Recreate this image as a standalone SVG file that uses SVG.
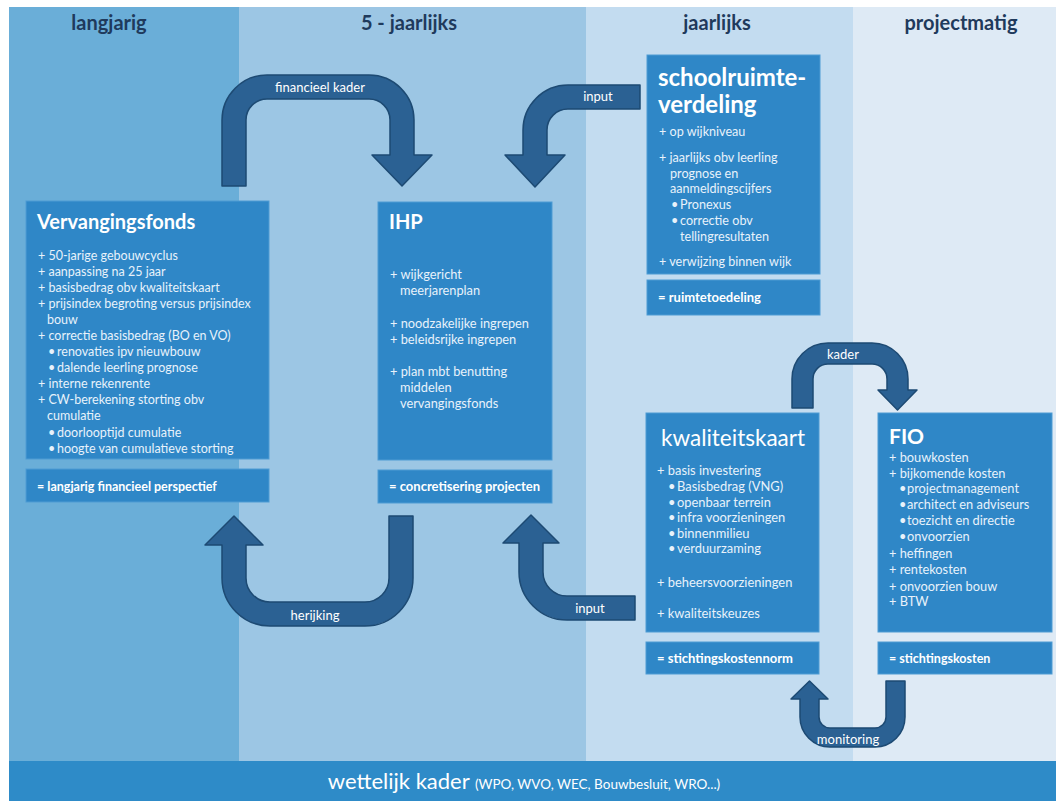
<svg xmlns="http://www.w3.org/2000/svg" width="1056" height="801" viewBox="0 0 1056 801">
<style>
.hdr{font-family:Lato,"Open Sans","Liberation Sans",sans-serif;font-weight:bold;font-size:20px;fill:#1f3a5c;text-anchor:middle}
.box{fill:#2f87c7;stroke:#4e9bd3;stroke-width:1}
.title{font-family:Lato,"Open Sans","Liberation Sans",sans-serif;font-weight:bold;fill:#ffffff}
.it{font-family:Lato,"Open Sans","Liberation Sans",sans-serif;fill:#e8f2fb}
.ft{font-family:Lato,"Open Sans","Liberation Sans",sans-serif;font-weight:bold;fill:#ffffff}
.arrow{fill:#2b6193;stroke:#1d4a73;stroke-width:1.5;stroke-linejoin:round}
.al{font-family:Lato,"Open Sans","Liberation Sans",sans-serif;fill:#ffffff;font-size:13px;text-anchor:middle}
</style>
<g id="background">
<rect x="9" y="7" width="230" height="754" fill="#6aaed8"/>
<rect x="239" y="7" width="347" height="754" fill="#9cc6e4"/>
<rect x="586" y="7" width="267" height="754" fill="#c3dcf0"/>
<rect x="853" y="7" width="203" height="754" fill="#deeaf5"/>
<text class="hdr" x="109" y="30">langjarig</text>
<text class="hdr" x="409" y="30">5 - jaarlijks</text>
<text class="hdr" x="717" y="30">jaarlijks</text>
<text class="hdr" x="961" y="30">projectmatig</text>
</g>
<g id="wettelijk-kader">
<rect x="9" y="761" width="1047" height="40" fill="#2e8bc8"/>
<text x="524" y="789" text-anchor="middle" font-family="Lato,'Open Sans','Liberation Sans',sans-serif" fill="#ffffff"><tspan font-size="22px">wettelijk kader </tspan><tspan font-size="13.5px">(WPO, WVO, WEC, Bouwbesluit, WRO...)</tspan></text>
</g>
<g id="connectors">
<g id="arrow-financieel-kader">
<path class="arrow" d="M222,186 L222,120 A45,45 0 0 1 267,75 L369,75 A45,45 0 0 1 414,120 L414,155 L432,155 L402,186 L372,155 L390,155 L390,120 A21,21 0 0 0 369,99 L267,99 A21,21 0 0 0 246,120 L246,186 Z"/>
<text class="al" x="320" y="92">financieel kader</text>
</g>
<g id="arrow-input-top">
<path class="arrow" d="M640,85 L568,85 A45,45 0 0 0 523,130 L523,155 L505,155 L535,187 L565,155 L547,155 L547,130 A21,21 0 0 1 568,109 L640,109 Z"/>
<text class="al" x="598" y="101">input</text>
</g>
<g id="arrow-herijking">
<path class="arrow" d="M389,516 L413,516 L413,578 A48,48 0 0 1 365,626 L270,626 A48,48 0 0 1 222,578 L222,545 L205,545 L234,516 L263,545 L246,545 L246,578 A24,24 0 0 0 270,602 L365,602 A24,24 0 0 0 389,578 Z"/>
<text class="al" x="315" y="620">herijking</text>
</g>
<g id="arrow-input-bottom">
<path class="arrow" d="M635,596 L567,596 A24,24 0 0 1 543,572 L543,543 L559,543 L531,515 L503,543 L519,543 L519,572 A48,48 0 0 0 567,620 L635,620 Z"/>
<text class="al" x="590" y="613">input</text>
</g>
<g id="arrow-kader">
<path class="arrow" d="M792,408 L792,379 A36,36 0 0 1 828,343 L872,343 A36,36 0 0 1 908,379 L908,390 L917,390 L897.5,410 L878,390 L887,390 L887,379 A15,15 0 0 0 872,364 L828,364 A15,15 0 0 0 813,379 L813,408 Z"/>
<text class="al" x="843" y="359">kader</text>
</g>
<g id="arrow-monitoring">
<path class="arrow" d="M886,681 L905,681 L905,717 A30,30 0 0 1 875,747 L830,747 A30,30 0 0 1 800,717 L800,699 L791,699 L809.5,681 L828,699 L819,699 L819,717 A11,11 0 0 0 830,728 L875,728 A11,11 0 0 0 886,717 Z"/>
<text class="al" x="848" y="744" font-size="14px">monitoring</text>
</g>
</g>
<g id="vervangingsfonds">
<rect class="box" x="26" y="201" width="243" height="258"/>
<text class="title" x="37" y="229" font-size="20px">Vervangingsfonds</text>
<g class="it" font-size="12.5px">
<text x="38" y="260">+ 50-jarige gebouwcyclus</text>
<text x="38" y="276">+ aanpassing na 25 jaar</text>
<text x="38" y="292">+ basisbedrag obv kwaliteitskaart</text>
<text x="38" y="308">+ prijsindex begroting versus prijsindex</text>
<text x="47" y="324">bouw</text>
<text x="38" y="340">+ correctie basisbedrag  (BO en VO)</text>
<text x="48" y="356">•<tspan x="57">renovaties ipv nieuwbouw</tspan></text>
<text x="48" y="372">•<tspan x="57">dalende leerling prognose</tspan></text>
<text x="38" y="388">+ interne rekenrente</text>
<text x="38" y="404">+ CW-berekening storting obv</text>
<text x="47" y="420">cumulatie</text>
<text x="48" y="437">•<tspan x="57">doorlooptijd cumulatie</tspan></text>
<text x="48" y="453">•<tspan x="57">hoogte van cumulatieve storting</tspan></text>
</g>
<rect class="box" x="26" y="469" width="243" height="33"/>
<text class="ft" x="37" y="491" font-size="12.5px">= langjarig financieel perspectief</text>
</g>
<g id="ihp">
<rect class="box" x="378" y="202" width="174" height="258"/>
<text class="title" x="389" y="229" font-size="20px">IHP</text>
<g class="it" font-size="12.8px">
<text x="390" y="279">+ wijkgericht</text>
<text x="400" y="295">meerjarenplan</text>
<text x="390" y="328">+ noodzakelijke ingrepen</text>
<text x="390" y="344">+ beleidsrijke ingrepen</text>
<text x="390" y="376">+ plan mbt benutting</text>
<text x="400" y="392">middelen</text>
<text x="400" y="408">vervangingsfonds</text>
</g>
<rect class="box" x="378" y="470" width="174" height="33"/>
<text class="ft" x="389" y="491" font-size="13px">= concretisering projecten</text>
</g>
<g id="schoolruimteverdeling">
<rect class="box" x="647" y="55" width="173" height="219"/>
<text class="title" x="658" y="86" font-size="24px">schoolruimte-</text>
<text class="title" x="658" y="113" font-size="24px">verdeling</text>
<g class="it" font-size="12.6px">
<text x="659" y="136">+ op wijkniveau</text>
<text x="659" y="162">+ jaarlijks obv leerling</text>
<text x="670" y="178">prognose en</text>
<text x="670" y="193">aanmeldingscijfers</text>
<text x="671" y="209">•<tspan x="680">Pronexus</tspan></text>
<text x="671" y="225">•<tspan x="680">correctie obv</tspan></text>
<text x="680" y="241">tellingresultaten</text>
<text x="659" y="266">+ verwijzing binnen wijk</text>
</g>
<rect class="box" x="647" y="280" width="173" height="35"/>
<text class="ft" x="658" y="302" font-size="13px">= ruimtetoedeling</text>
</g>
<g id="kwaliteitskaart">
<rect class="box" x="646" y="413" width="173" height="219"/>
<text x="661" y="446" font-size="22.5px" font-family="Lato,'Open Sans','Liberation Sans',sans-serif" fill="#ffffff">kwaliteitskaart</text>
<g class="it" font-size="12.9px">
<text x="657" y="475">+ basis investering</text>
<text x="668" y="491">•<tspan x="677">Basisbedrag (VNG)</tspan></text>
<text x="668" y="507">•<tspan x="677">openbaar terrein</tspan></text>
<text x="668" y="522">•<tspan x="677">infra voorzieningen</tspan></text>
<text x="668" y="538">•<tspan x="677">binnenmilieu</tspan></text>
<text x="668" y="553">•<tspan x="677">verduurzaming</tspan></text>
<text x="657" y="587">+ beheersvoorzieningen</text>
<text x="657" y="618">+ kwaliteitskeuzes</text>
</g>
<rect class="box" x="646" y="642" width="173" height="32"/>
<text class="ft" x="657" y="663" font-size="13px">= stichtingskostennorm</text>
</g>
<g id="fio">
<rect class="box" x="878" y="413" width="174" height="219"/>
<text class="title" x="889" y="444" font-size="21px">FIO</text>
<g class="it" font-size="12.8px">
<text x="889" y="462">+ bouwkosten</text>
<text x="889" y="478">+ bijkomende kosten</text>
<text x="899" y="493">•<tspan x="907">projectmanagement</tspan></text>
<text x="899" y="509">•<tspan x="907">architect en adviseurs</tspan></text>
<text x="899" y="525">•<tspan x="907">toezicht en directie</tspan></text>
<text x="899" y="541">•<tspan x="907">onvoorzien</tspan></text>
<text x="889" y="558">+ heffingen</text>
<text x="889" y="574">+ rentekosten</text>
<text x="889" y="591">+ onvoorzien bouw</text>
<text x="889" y="606">+ BTW</text>
</g>
<rect class="box" x="878" y="642" width="174" height="32"/>
<text class="ft" x="889" y="663" font-size="12.5px">= stichtingskosten</text>
</g>
</svg>
